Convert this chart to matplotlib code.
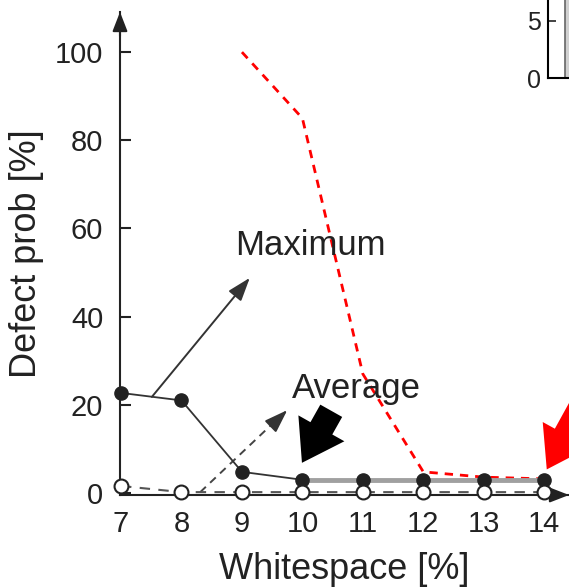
import matplotlib.pyplot as plt
from matplotlib.patches import FancyArrowPatch

plt.rcParams["font.family"] = ["Liberation Sans", "DejaVu Sans"]

# whitespace sweep and defect probabilities
whitespace = [7, 8, 9, 10, 11, 12, 13, 14]
max_prob = [22.7, 21.0, 4.8, 3.0, 3.0, 3.0, 3.0, 3.0]
avg_prob = [1.6, 0.2, 0.2, 0.2, 0.2, 0.2, 0.2, 0.2]
# red curve only starts at 9 %
red_x = [9, 10, 11, 12, 13, 14]
red_prob = [100, 85, 27, 4.8, 3.6, 3.2]

yticks = [0, 20, 40, 60, 80, 100]

# neighbouring panel, only its left edge shows
inset_counts = [9]
inset_yticks = [0, 5]

ink = "#222222"

fig = plt.figure(figsize=(5.69, 5.87), dpi=100)
ax = fig.add_axes([120 / 569, (587 - 495) / 587, (569 - 120) / 569, (495 - 12) / 587])
ax.set_xlim(6.983, 14.41)
ax.set_ylim(-0.45, 109.1)

for side in ["top", "right"]:
    ax.spines[side].set_visible(False)
for side in ["left", "bottom"]:
    ax.spines[side].set_linewidth(1.5)
    ax.spines[side].set_color(ink)

# arrow heads at the axis ends
head = dict(arrowstyle="-|>,head_length=0.9,head_width=0.35", color=ink,
            lw=1.5, shrinkA=0, shrinkB=0, mutation_scale=13)
ax.annotate("", xy=(0, 1), xytext=(0, 0.95), xycoords="axes fraction",
            arrowprops=head, annotation_clip=False)
ax.annotate("", xy=(1.0, 0), xytext=(0.95, 0), xycoords="axes fraction",
            arrowprops=head, annotation_clip=False)

ax.set_xticks(whitespace)
ax.set_yticks(yticks)
ax.tick_params(axis="y", direction="in", length=8, width=1.5, pad=12,
               labelsize=21, colors=ink)
ax.tick_params(axis="x", direction="in", length=0, pad=11,
               labelsize=21, colors=ink)
ax.set_xlabel("Whitespace [%]", fontsize=26, color=ink, labelpad=10)
ax.set_ylabel("Defect prob [%]", fontsize=26, color=ink, labelpad=8)

# red dashed curve
ax.plot(red_x, red_prob, color="red", lw=2, dashes=(3, 2.5), zorder=2)

# average: dashed grey with open circles
ax.plot(whitespace, avg_prob, color="#555555", lw=1.5, dashes=(5, 4), zorder=3)
ax.plot(whitespace, avg_prob, ls="none", marker="o", ms=10, mfc="white",
        mec=ink, mew=1.5, zorder=5, clip_on=False)

# maximum: thin dark line, flat tail drawn in thick light grey
ax.plot(whitespace[:4], max_prob[:4], color="#333333", lw=1.3, zorder=3)
ax.plot(whitespace[3:], max_prob[3:], color="#a0a0a0", lw=3.5, zorder=3)
ax.plot(whitespace, max_prob, ls="none", marker="o", ms=9.5, mfc=ink,
        mec=ink, zorder=4, clip_on=False)

# callouts
small_head = dict(arrowstyle="-|>,head_length=1.3,head_width=0.45",
                  color="#333333", lw=1.4, shrinkA=0, shrinkB=0,
                  mutation_scale=11)
ax.text(10.13, 56.2, "Maximum", fontsize=25, color=ink, ha="center", va="center")
ax.annotate("", xy=(9.13, 48.8), xytext=(7.51, 21.8), arrowprops=small_head)
ax.text(10.89, 23.8, "Average", fontsize=25, color=ink, ha="center", va="center")
ax.plot([8.31, 9.62], [0.2, 17.2], color="#444444", lw=1.4, dashes=(4, 3))
ax.annotate("", xy=(9.75, 18.8), xytext=(9.6, 16.8), arrowprops=small_head)

# thick pointer arrows
big = "simple,head_width=2,head_length=1.5,tail_width=0.95"
ax.add_patch(FancyArrowPatch((10.5, 19.2), (9.97, 6.3), arrowstyle=big,
                             mutation_scale=19, color="black", lw=0,
                             zorder=6, clip_on=False))
ax.add_patch(FancyArrowPatch((14.65, 20.5), (14.02, 4.8), arrowstyle=big,
                             mutation_scale=19, color="red", lw=0,
                             zorder=6, clip_on=False))

# edge of the neighbouring panel
ax2 = fig.add_axes([548 / 569, (587 - 78) / 587, 100 / 569, 78 / 587])
ax2.set_xlim(0, 10)
ax2.set_ylim(0, 6.84)
ax2.bar([1.7], inset_counts, width=3, align="edge", color="#d0d0d0",
        edgecolor="#666666", lw=1.2)
for side in ["top", "right"]:
    ax2.spines[side].set_visible(False)
for side in ["left", "bottom"]:
    ax2.spines[side].set_linewidth(1.5)
ax2.set_xticks([])
ax2.set_yticks(inset_yticks)
ax2.tick_params(axis="y", direction="in", length=6, width=1.2, pad=5,
                labelsize=18, colors=ink)

fig.savefig("out.png", dpi=100)
